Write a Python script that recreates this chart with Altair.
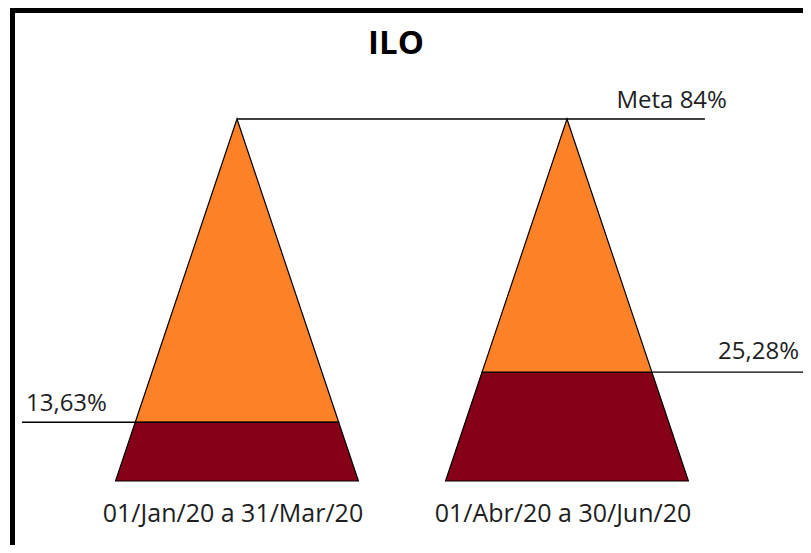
import altair as alt
import pandas as pd

# ---- data ----
categories = ["01/Jan/20 a 31/Mar/20", "01/Abr/20 a 30/Jun/20"]
values = [13.63, 25.28]
value_labels = ["13,63%", "25,28%"]
meta = 84
meta_label = "Meta 84%"
title_text = "ILO"

# ---- style / layout constants ----
W, H = 795, 537
HW = 0.368          # half base width of a pyramid, in category units
X_DOMAIN = [-0.6939, 1.7152]
Y_DOMAIN = [-14.851, 109.757]
ORANGE = "#FD8127"
DARK = "#860017"
FONT = "Open Sans"
TXT = "#1e1e1e"
LEFT_END = -0.6515
RIGHT_END = 1.7152
META_END = 1.418

def half(y):
    return HW * (1 - y / meta)

xs = alt.Scale(domain=X_DOMAIN, range=[0, W], nice=False, zero=False)
ys = alt.Scale(domain=Y_DOMAIN, nice=False, zero=False)

# pyramid segments, one layer each
pyr_layers = []
for i, (cat, v) in enumerate(zip(categories, values)):
    for fill, lo, hi in [(DARK, 0.0, v), (ORANGE, v, float(meta))]:
        seg = pd.DataFrame([{"y": y, "xl": i - half(y), "xr": i + half(y)} for y in (lo, hi)])
        pyr_layers.append(
            alt.Chart(seg).mark_area(orient="horizontal", fill=fill, stroke="black", strokeWidth=1.2).encode(
                y=alt.Y("y:Q", scale=ys, axis=None),
                x=alt.X("xl:Q", scale=xs, axis=None, stack=None),
                x2="xr:Q",
            )
        )

# reference lines
lines = pd.DataFrame([
    {"x": 0.0, "x2": META_END, "y": float(meta)},
    {"x": LEFT_END, "x2": 0 + half(values[0]), "y": values[0]},
    {"x": 1 + half(values[1]), "x2": RIGHT_END, "y": values[1]},
])
rules = alt.Chart(lines).mark_rule(color="black", strokeWidth=1.3).encode(
    x=alt.X("x:Q", scale=xs, axis=None), x2="x2:Q",
    y=alt.Y("y:Q", scale=ys, axis=None),
)

# value labels
lab_left = alt.Chart(pd.DataFrame([{"x": LEFT_END, "y": values[0], "t": value_labels[0]}])).mark_text(
    align="left", baseline="alphabetic", dx=4, dy=-11, font=FONT, fontSize=24, color=TXT
).encode(x=alt.X("x:Q", scale=xs, axis=None), y=alt.Y("y:Q", scale=ys, axis=None), text="t:N")

lab_right = alt.Chart(pd.DataFrame([{"x": RIGHT_END, "y": values[1], "t": value_labels[1]}])).mark_text(
    align="right", baseline="alphabetic", dx=-4, dy=-13, font=FONT, fontSize=24, color=TXT
).encode(x=alt.X("x:Q", scale=xs, axis=None), y=alt.Y("y:Q", scale=ys, axis=None), text="t:N")

lab_meta = alt.Chart(pd.DataFrame([{"x": META_END, "y": float(meta), "t": meta_label}])).mark_text(
    align="right", baseline="alphabetic", dx=22, dy=-11, font=FONT, fontSize=24, color=TXT
).encode(x=alt.X("x:Q", scale=xs, axis=None), y=alt.Y("y:Q", scale=ys, axis=None), text="t:N")

cats = alt.Chart(pd.DataFrame({"x": [0.0, 1.0], "y": [0.0, 0.0], "t": categories})).mark_text(
    align="center", baseline="alphabetic", dx=-4, dy=41, font=FONT, fontSize=25, color=TXT
).encode(x=alt.X("x:Q", scale=xs, axis=None), y=alt.Y("y:Q", scale=ys, axis=None), text="t:N")

title = alt.Chart(pd.DataFrame({"t": [title_text]})).mark_text(
    align="center", baseline="alphabetic", font=FONT, fontSize=33, fontWeight="bold", color="black"
).encode(x=alt.value(388), y=alt.value(46), text="t:N")

# frame
frame_left = alt.Chart(pd.DataFrame({"a": [0]})).mark_rule(color="black", strokeWidth=5).encode(
    x=alt.value(4.5), y=alt.value(0), y2=alt.value(H))
frame_top = alt.Chart(pd.DataFrame({"a": [0]})).mark_rule(color="black", strokeWidth=5).encode(
    y=alt.value(2.5), x=alt.value(2), x2=alt.value(W))

chart = alt.layer(*pyr_layers, rules, lab_left, lab_right, lab_meta, cats, title, frame_left, frame_top).properties(
    width=W, height=H, padding=0, autosize=alt.AutoSizeParams(type="none")
).configure_view(strokeWidth=0)

chart.save("out.html", embed_options={"renderer": "svg", "actions": False})
